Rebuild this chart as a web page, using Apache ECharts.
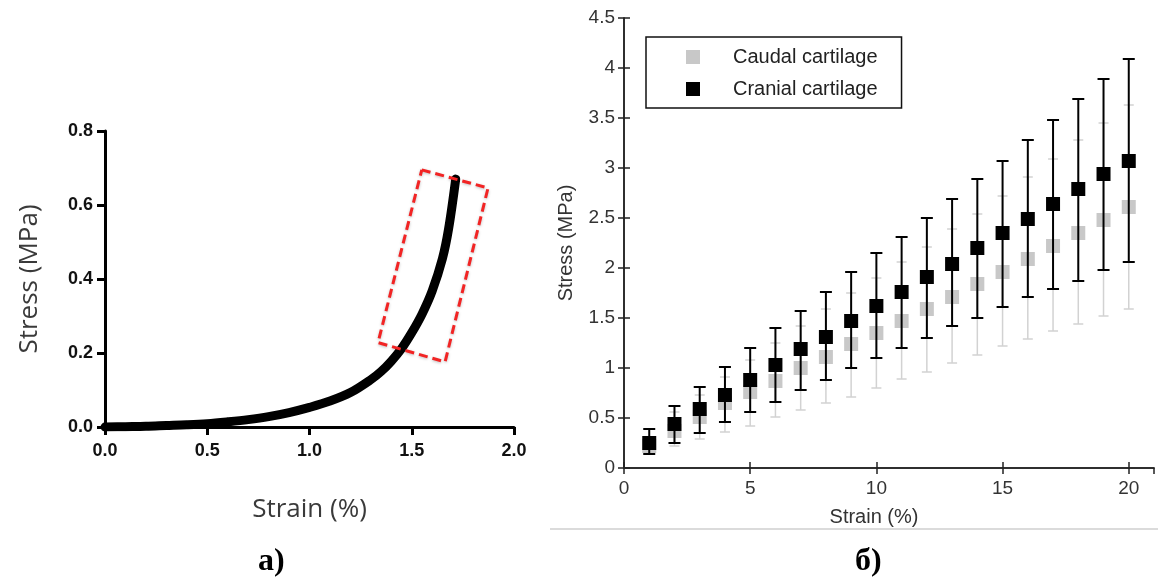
<!DOCTYPE html>
<html>
<head>
<meta charset="utf-8">
<script src="https://cdn.jsdelivr.net/npm/echarts@6/dist/echarts.min.js"></script>
<style>
  html, body { margin: 0; padding: 0; background: #fff; }
  #chart { width: 1158px; height: 586px; }
</style>
</head>
<body>
<div id="chart"></div>
<script>
// ---- Panel a: stress-strain curve ----
const curveStrain = [0, 0.1, 0.2, 0.3, 0.4, 0.5, 0.6, 0.7, 0.8, 0.9, 1.0, 1.1, 1.2, 1.3, 1.35, 1.4, 1.45, 1.5, 1.55, 1.6, 1.65, 1.68, 1.715];
const curveStress = [0, 0.001, 0.002, 0.004, 0.006, 0.009, 0.014, 0.020, 0.028, 0.039, 0.053, 0.070, 0.093, 0.128, 0.150, 0.178, 0.212, 0.255, 0.305, 0.368, 0.455, 0.535, 0.670];
// highlighted region (dashed box corners, data units)
const boxStrain = [1.549, 1.873, 1.663, 1.335, 1.549];
const boxStress = [0.695, 0.646, 0.176, 0.228, 0.695];
const aXTicks = { min: 0, max: 2, interval: 0.5 };
const aYTicks = { min: 0, max: 0.8, interval: 0.2 };

// ---- Panel b: caudal vs cranial cartilage ----
const strainLevels = [1, 2, 3, 4, 5, 6, 7, 8, 9, 10, 11, 12, 13, 14, 15, 16, 17, 18, 19, 20];
const cranialMean = [0.25, 0.44, 0.59, 0.73, 0.88, 1.03, 1.19, 1.31, 1.47, 1.62, 1.76, 1.91, 2.04, 2.20, 2.35, 2.49, 2.64, 2.79, 2.94, 3.07];
const cranialHigh = [0.39, 0.62, 0.81, 1.01, 1.20, 1.40, 1.57, 1.76, 1.96, 2.15, 2.31, 2.50, 2.69, 2.89, 3.07, 3.28, 3.48, 3.69, 3.89, 4.09];
const cranialLow  = [0.14, 0.25, 0.35, 0.46, 0.56, 0.66, 0.78, 0.88, 1.00, 1.10, 1.20, 1.30, 1.42, 1.50, 1.61, 1.71, 1.79, 1.87, 1.98, 2.06];
const caudalMean  = [0.22, 0.37, 0.51, 0.65, 0.76, 0.87, 1.00, 1.11, 1.24, 1.35, 1.47, 1.59, 1.71, 1.84, 1.96, 2.09, 2.22, 2.35, 2.48, 2.61];
const caudalHigh  = [0.30, 0.56, 0.73, 0.91, 1.08, 1.25, 1.42, 1.59, 1.75, 1.90, 2.06, 2.21, 2.39, 2.54, 2.72, 2.91, 3.09, 3.28, 3.45, 3.63];
const caudalLow   = [0.15, 0.22, 0.29, 0.36, 0.42, 0.51, 0.58, 0.65, 0.71, 0.80, 0.89, 0.96, 1.05, 1.13, 1.22, 1.29, 1.37, 1.44, 1.52, 1.59];
const seriesNames = ['Caudal cartilage', 'Cranial cartilage'];
const bXTicks = { min: 0, max: 21, interval: 5 };
const bYTicks = { min: 0, max: 4.5, interval: 0.5 };
const captions = ['а)', 'б)'];

const CAUDAL = '#c8c8c8';
const CAUDAL_BAR = '#d2d2d2';
const CRANIAL = '#000000';

function errBars(color, width, capHalf) {
  return function (params, api) {
    const x = api.value(0);
    const lo = api.coord([x, api.value(1)]);
    const hi = api.coord([x, api.value(2)]);
    const st = { stroke: color, lineWidth: width };
    return {
      type: 'group',
      children: [
        { type: 'line', shape: { x1: lo[0], y1: lo[1], x2: hi[0], y2: hi[1] }, style: st },
        { type: 'line', shape: { x1: lo[0] - capHalf, y1: lo[1], x2: lo[0] + capHalf, y2: lo[1] }, style: st },
        { type: 'line', shape: { x1: hi[0] - capHalf, y1: hi[1], x2: hi[0] + capHalf, y2: hi[1] }, style: st }
      ]
    };
  };
}

const chart = echarts.init(document.getElementById('chart'), null, { renderer: 'canvas' });

const aAxisLabel = { fontFamily: 'Liberation Sans', fontWeight: 'bold', fontSize: 18, color: '#111' };
const aName = { fontFamily: 'Open Sans', fontSize: 26, color: '#3a3a3a' };
const bLabel = { fontFamily: 'Liberation Sans', fontSize: 19, color: '#333' };
const bName = { fontFamily: 'Liberation Sans', fontSize: 20, color: '#333' };
const bLine = { show: true, lineStyle: { color: '#222', width: 1.5 } };
const bTick = { show: true, inside: true, length: 6, lineStyle: { color: '#222', width: 1.5 } };

const option = {
  animation: false,
  backgroundColor: '#fff',
  grid: [
    { left: 105, top: 131, width: 409, height: 296 },
    { left: 624, top: 18, width: 530, height: 450 }
  ],
  legend: {
    data: seriesNames,
    orient: 'vertical',
    left: 646,
    top: 37,
    icon: 'rect',
    itemWidth: 14,
    itemHeight: 14,
    itemGap: 12,
    padding: [10, 24, 9, 40],
    borderColor: '#111',
    borderWidth: 1.5,
    itemStyle: { opacity: 1 },
    textStyle: { fontFamily: 'Liberation Sans', fontSize: 20, color: '#222', padding: [0, 0, 0, 28] }
  },
  xAxis: [
    {
      gridIndex: 0, type: 'value', min: aXTicks.min, max: aXTicks.max, interval: aXTicks.interval,
      name: 'Strain (%)', nameLocation: 'middle', nameGap: 70, nameTextStyle: aName,
      axisLine: { show: true, onZero: false, lineStyle: { color: '#000', width: 3 } },
      axisTick: { show: true, length: 8, lineStyle: { color: '#000', width: 3 } },
      axisLabel: Object.assign({ margin: 15, formatter: v => v.toFixed(1) }, aAxisLabel),
      splitLine: { show: false }
    },
    {
      gridIndex: 1, type: 'value', min: bXTicks.min, max: bXTicks.max, interval: bXTicks.interval,
      name: 'Strain (%)', nameLocation: 'middle', nameGap: 39,
      nameTextStyle: Object.assign({ padding: [0, 30, 0, 0] }, bName),
      axisLine: bLine, axisTick: bTick,
      axisLabel: Object.assign({ margin: 11, showMaxLabel: false }, bLabel),
      splitLine: { show: false }
    },
    {
      gridIndex: 1, type: 'value', position: 'top', min: bXTicks.min, max: bXTicks.max, interval: bXTicks.interval,
      axisLine: bLine, axisTick: bTick, axisLabel: { show: false }, splitLine: { show: false }
    }
  ],
  yAxis: [
    {
      gridIndex: 0, type: 'value', min: aYTicks.min, max: aYTicks.max, interval: aYTicks.interval,
      name: 'Stress (MPa)', nameLocation: 'middle', nameGap: 62, nameTextStyle: aName,
      axisLine: { show: true, onZero: false, lineStyle: { color: '#000', width: 3 } },
      axisTick: { show: true, length: 8, lineStyle: { color: '#000', width: 3 } },
      axisLabel: Object.assign({ margin: 12, formatter: v => v.toFixed(1) }, aAxisLabel),
      splitLine: { show: false }
    },
    {
      gridIndex: 1, type: 'value', min: bYTicks.min, max: bYTicks.max, interval: bYTicks.interval,
      name: 'Stress (MPa)', nameLocation: 'middle', nameGap: 48, nameTextStyle: bName,
      axisLine: bLine, axisTick: bTick,
      axisLabel: Object.assign({ margin: 9 }, bLabel),
      splitLine: { show: false }
    },
    {
      gridIndex: 1, type: 'value', position: 'right', min: bYTicks.min, max: bYTicks.max, interval: bYTicks.interval,
      axisLine: bLine, axisTick: bTick, axisLabel: { show: false }, splitLine: { show: false }
    }
  ],
  series: [
    {
      type: 'line', xAxisIndex: 0, yAxisIndex: 0, smooth: 0.35, symbol: 'none',
      data: curveStrain.map((s, i) => [s, curveStress[i]]),
      lineStyle: { color: '#000', width: 9, cap: 'round', join: 'round' },
      z: 3
    },
    {
      type: 'line', xAxisIndex: 0, yAxisIndex: 0, symbol: 'none',
      data: boxStrain.map((s, i) => [s, boxStress[i]]),
      lineStyle: { color: '#f22424', width: 3, type: [9, 5], shadowColor: 'rgba(0,0,0,0.25)', shadowBlur: 3, shadowOffsetY: 1 },
      z: 4
    },
    {
      type: 'custom', xAxisIndex: 1, yAxisIndex: 1,
      renderItem: errBars(CAUDAL_BAR, 1.5, 5),
      data: strainLevels.map((s, i) => [s, caudalLow[i], caudalHigh[i]]),
      z: 2
    },
    {
      name: seriesNames[0], type: 'scatter', xAxisIndex: 1, yAxisIndex: 1,
      symbol: 'rect', symbolSize: 14, itemStyle: { color: CAUDAL, opacity: 1 },
      data: strainLevels.map((s, i) => [s, caudalMean[i]]),
      z: 3
    },
    {
      type: 'custom', xAxisIndex: 1, yAxisIndex: 1,
      renderItem: errBars(CRANIAL, 2, 6),
      data: strainLevels.map((s, i) => [s, cranialLow[i], cranialHigh[i]]),
      z: 4
    },
    {
      name: seriesNames[1], type: 'scatter', xAxisIndex: 1, yAxisIndex: 1,
      symbol: 'rect', symbolSize: 14, itemStyle: { color: CRANIAL, opacity: 1 },
      data: strainLevels.map((s, i) => [s, cranialMean[i]]),
      z: 5
    }
  ],
  graphic: [
    { type: 'line', shape: { x1: 550, y1: 529, x2: 1158, y2: 529 }, style: { stroke: '#cfcfcf', lineWidth: 1.5 } },
    { type: 'text', left: 258, top: 546, style: { text: captions[0], font: 'bold 32px "Liberation Serif"', fill: '#000' } },
    { type: 'text', left: 855, top: 546, style: { text: captions[1], font: 'bold 32px "Liberation Serif"', fill: '#000' } }
  ]
};

chart.setOption(option);
</script>
</body>
</html>
